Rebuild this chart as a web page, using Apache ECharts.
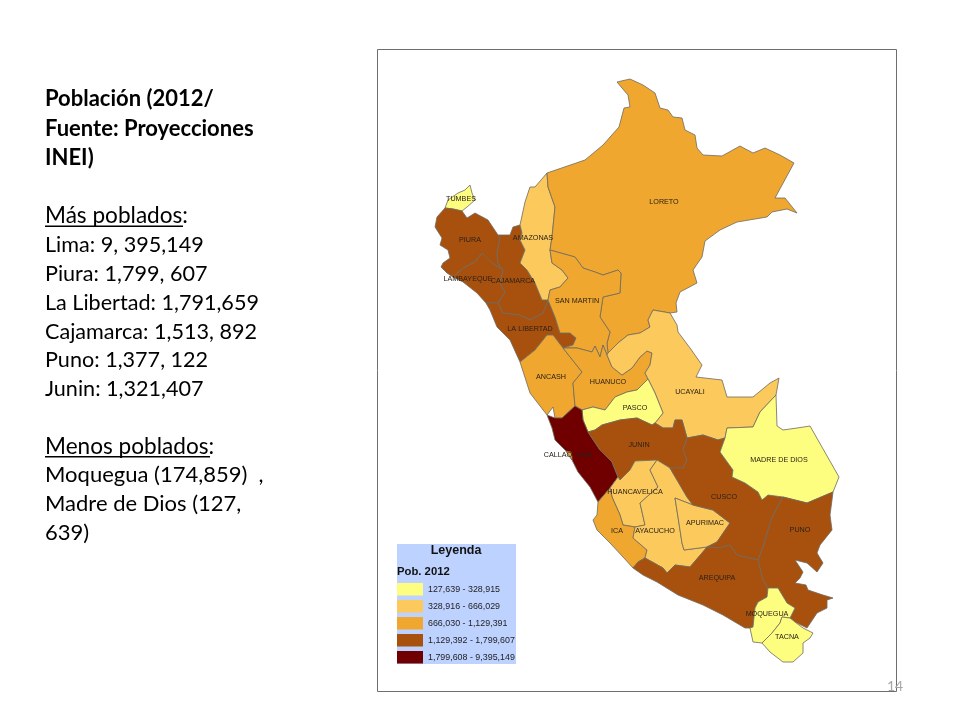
<!DOCTYPE html>
<html>
<head>
<meta charset="utf-8">
<title>Población Perú 2012</title>
<script src="https://cdn.jsdelivr.net/npm/echarts@6/dist/echarts.min.js"></script>
<style>
    html, body { margin: 0; padding: 0; background: #fff; }
    #main { width: 960px; height: 720px; }
</style>
</head>
<body>
<div id="main"></div>
<script type="application/javascript">
    // poblacion por departamento, 2012
    var departamentos = ['TUMBES', 'PIURA', 'LAMBAYEQUE', 'CAJAMARCA', 'LA LIBERTAD', 'AMAZONAS', 'LORETO', 'SAN MARTIN',
        'ANCASH', 'HUANUCO', 'UCAYALI', 'PASCO', 'LIMA', 'CALLAO', 'JUNIN', 'HUANCAVELICA', 'ICA', 'AYACUCHO',
        'APURIMAC', 'CUSCO', 'MADRE DE DIOS', 'AREQUIPA', 'PUNO', 'MOQUEGUA', 'TACNA'];
    var poblacion = [228227, 1799607, 1229260, 1513892, 1791659, 417365, 1006953, 806452,
        1129391, 840984, 477616, 297591, 9395149, 969170, 1321407, 483580, 763558, 666029,
        451881, 1292175, 127639, 1245251, 1377122, 174859, 328915];

    var claseMin = [127639, 328916, 666030, 1129392, 1799608];
    var claseMax = [328915, 666029, 1129391, 1799607, 9395149];
    var claseTexto = ['127,639 - 328,915', '328,916 - 666,029', '666,030 - 1,129,391', '1,129,392 - 1,799,607', '1,799,608 - 9,395,149'];
    var claseColor = ['#fdfd80', '#fbc95c', '#f0a72f', '#a8510f', '#700000'];

    var textoLineas = ['Población (2012/', 'Fuente: Proyecciones', 'INEI)', 'Más poblados:', 'Lima: 9, 395,149', 'Piura: 1,799, 607',
        'La Libertad: 1,791,659', 'Cajamarca: 1,513, 892', 'Puno: 1,377, 122', 'Junin: 1,321,407', 'Menos poblados:',
        'Moquegua (174,859)  ,', 'Madre de Dios (127,', '639)'];
    var textoY = [99, 129, 158, 216, 245, 274, 303, 332, 360, 389, 447, 475, 504, 533];
    var textoFuente = ['bold 22px', 'bold 22px', 'bold 22px', '22.6px', '21.6px', '21.6px', '21.6px', '21.6px', '21.6px', '21.6px', '22.6px', '22px', '22px', '22px'];

    // contornos del mapa, trazados a ojo en pixeles de la imagen
    var contornos = {
        'TUMBES': [[445,208],[448,200],[458,193],[465,190],[470,185],[472,193],[475,200],[467,207],[462,211],[453,209]],
        'PIURA': [[445,208],[437,217],[435,227],[442,238],[440,245],[448,250],[450,258],[443,263],[441,267],[447,273],[453,277],[463,268],[475,262],[482,253],[492,263],[503,270],[498,263],[497,253],[500,238],[498,235],[488,220],[475,213],[467,218],[462,211],[453,209]],
        'LAMBAYEQUE': [[453,277],[463,282],[477,293],[486,303],[498,303],[505,292],[500,283],[503,270],[492,263],[482,253],[475,262],[463,268]],
        'CAJAMARCA': [[498,235],[510,235],[513,227],[520,225],[522,233],[520,240],[525,250],[520,263],[527,270],[535,283],[542,300],[548,300],[543,313],[530,320],[520,315],[503,313],[498,303],[505,292],[500,283],[503,270],[498,263],[497,253],[500,238]],
        'LA LIBERTAD': [[486,303],[490,310],[497,327],[510,340],[520,362],[535,350],[547,335],[553,335],[563,348],[573,345],[576,338],[570,333],[560,333],[555,317],[548,300],[543,313],[530,320],[520,315],[503,313],[498,303]],
        'AMAZONAS': [[547,173],[535,187],[530,187],[525,202],[520,225],[522,233],[520,240],[525,250],[520,263],[527,270],[535,283],[542,300],[548,300],[550,290],[560,287],[568,278],[562,270],[552,263],[550,250],[552,237],[555,207],[548,187]],
        'LORETO': [[547,173],[585,160],[603,145],[619,127],[624,108],[630,107],[628,95],[622,88],[617,82],[630,79],[643,85],[655,93],[660,108],[668,110],[673,117],[682,118],[685,130],[695,135],[697,148],[703,155],[722,156],[740,146],[753,153],[765,148],[780,155],[794,163],[775,198],[785,198],[797,213],[787,209],[772,212],[767,217],[737,222],[720,230],[705,241],[702,257],[693,270],[697,283],[680,292],[676,303],[677,312],[670,313],[653,310],[648,320],[650,327],[640,333],[628,335],[618,343],[608,353],[607,343],[610,332],[600,317],[603,297],[620,293],[621,273],[618,270],[603,275],[595,272],[583,268],[575,257],[550,250],[552,237],[555,207],[548,187]],
        'SAN MARTIN': [[550,250],[575,257],[583,268],[595,272],[603,275],[618,270],[621,273],[620,293],[603,297],[600,317],[610,332],[607,343],[608,353],[607,355],[603,345],[600,357],[595,346],[592,352],[577,348],[563,348],[573,345],[576,338],[570,333],[560,333],[555,317],[548,300],[550,290],[560,287],[568,278],[562,270],[552,263]],
        'ANCASH': [[520,362],[535,350],[547,335],[553,335],[563,348],[582,372],[573,383],[575,406],[562,418],[555,418],[553,407],[547,415],[530,393]],
        'HUANUCO': [[563,348],[577,348],[592,352],[595,346],[600,357],[603,345],[607,355],[612,367],[622,375],[632,368],[640,357],[647,351],[652,353],[650,365],[645,373],[648,379],[637,390],[627,392],[615,397],[605,410],[593,407],[582,410],[575,406],[573,383],[582,372]],
        'UCAYALI': [[670,313],[677,325],[678,332],[690,348],[702,365],[696,377],[722,380],[727,397],[753,397],[770,383],[779,378],[776,395],[760,412],[753,427],[727,428],[725,438],[718,440],[703,435],[687,438],[682,420],[675,420],[673,428],[663,428],[655,423],[663,413],[655,393],[648,379],[645,373],[650,365],[652,353],[647,351],[640,357],[632,368],[622,375],[612,367],[607,355],[608,353],[618,343],[628,335],[640,333],[650,327],[648,320],[653,310]],
        'PASCO': [[582,410],[593,407],[605,410],[615,397],[627,392],[637,390],[648,379],[655,393],[663,413],[655,423],[652,425],[637,418],[620,420],[602,425],[595,430],[588,432],[583,420]],
        'LIMA': [[547,415],[555,418],[562,418],[575,406],[582,410],[583,420],[588,432],[600,450],[612,462],[618,477],[610,488],[598,502],[590,487],[578,472],[572,460],[566,451],[555,440],[552,428]],
        'CALLAO': [[566,451],[571,452],[572,457],[572,460]],
        'JUNIN': [[588,432],[595,430],[602,425],[620,420],[637,418],[652,425],[655,423],[663,428],[673,428],[675,420],[682,420],[687,438],[683,450],[687,460],[683,468],[670,468],[657,460],[635,461],[630,470],[620,480],[618,477],[612,462],[600,450]],
        'HUANCAVELICA': [[635,461],[657,460],[650,470],[658,487],[640,503],[645,525],[635,527],[623,525],[620,515],[612,497],[610,488],[618,477],[620,480],[630,470]],
        'ICA': [[610,488],[598,502],[597,515],[593,520],[597,530],[610,543],[623,557],[633,568],[638,562],[645,558],[647,550],[633,538],[635,527],[623,525],[620,515],[612,497]],
        'AYACUCHO': [[657,460],[670,468],[687,497],[693,505],[675,498],[678,517],[682,543],[684,550],[707,547],[702,553],[690,567],[675,565],[667,573],[663,568],[645,558],[647,550],[633,538],[635,527],[645,525],[640,503],[658,487],[650,470]],
        'APURIMAC': [[675,498],[693,505],[713,510],[730,523],[717,542],[707,547],[684,550],[682,543],[678,517]],
        'CUSCO': [[687,438],[703,435],[718,440],[725,438],[720,452],[733,470],[732,477],[745,483],[758,492],[762,500],[768,495],[783,497],[772,517],[763,547],[758,560],[737,555],[730,545],[718,548],[707,547],[717,542],[730,523],[713,510],[693,505],[687,497],[670,468],[683,468],[687,460],[683,450]],
        'MADRE DE DIOS': [[727,428],[753,427],[760,412],[776,395],[777,426],[783,430],[797,428],[810,426],[839,477],[833,492],[807,503],[783,497],[768,495],[762,500],[758,492],[745,483],[732,477],[733,470],[720,452],[725,438]],
        'AREQUIPA': [[633,568],[638,562],[645,558],[663,568],[667,573],[675,565],[690,567],[702,553],[707,547],[718,548],[730,545],[737,555],[758,560],[763,580],[768,588],[767,597],[758,602],[755,608],[753,627],[750,628],[745,628],[723,615],[703,605],[678,595],[657,582],[643,575]],
        'PUNO': [[783,497],[807,503],[833,492],[832,500],[830,515],[832,530],[820,545],[817,553],[823,563],[817,572],[807,563],[795,560],[803,572],[800,578],[795,583],[806,585],[808,590],[823,595],[833,598],[827,600],[827,608],[817,613],[807,628],[795,622],[790,618],[795,608],[787,603],[778,588],[768,588],[763,580],[758,560],[763,547],[772,517]],
        'MOQUEGUA': [[768,588],[778,588],[787,603],[795,608],[790,618],[782,617],[780,623],[772,633],[762,643],[753,642],[750,628],[753,627],[755,608],[758,602],[767,597]],
        'TACNA': [[782,617],[790,618],[795,622],[803,628],[813,633],[810,638],[803,643],[803,653],[793,662],[783,662],[770,652],[762,643],[772,633],[780,623]]
    };

    // centro de cada etiqueta, en pixeles
    var etiquetas = {
        'TUMBES': [461,199], 'PIURA': [470,240], 'LAMBAYEQUE': [468,279], 'CAJAMARCA': [513,281], 'LA LIBERTAD': [530,329],
        'AMAZONAS': [533,238], 'LORETO': [664,202], 'SAN MARTIN': [577,301], 'ANCASH': [551,377], 'HUANUCO': [608,382],
        'UCAYALI': [690,392], 'PASCO': [635,408], 'LIMA': [584,455], 'CALLAO': [558,455], 'JUNIN': [639,445],
        'HUANCAVELICA': [635,492], 'ICA': [617,531], 'AYACUCHO': [655,531], 'APURIMAC': [705,523], 'CUSCO': [724,497],
        'MADRE DE DIOS': [779,460], 'AREQUIPA': [717,578], 'PUNO': [800,530], 'MOQUEGUA': [767,614], 'TACNA': [787,637]
    };

    function flip (p) {
        return [p[0], 720 - p[1]];
    }

    var features = departamentos.map(function (name) {
        var ring = contornos[name].map(flip);
        ring.push(ring[0]);
        return {
            type: 'Feature',
            properties: {name: name, cp: flip(etiquetas[name])},
            geometry: {type: 'Polygon', coordinates: [ring]}
        };
    });
    echarts.registerMap('peru', {type: 'FeatureCollection', features: features});

    var pieces = claseMin.map(function (min, i) {
        return {min: min, max: claseMax[i], label: claseTexto[i], color: claseColor[i]};
    });
    var mapData = departamentos.map(function (name, i) {
        return {name: name, value: poblacion[i]};
    });

    var graphics = [
        {type: 'rect', z: 0, shape: {x: 377.5, y: 49.5, width: 519, height: 642}, style: {fill: '#fff', stroke: '#6e6e6e', lineWidth: 1}},
        {type: 'rect', z: 1, shape: {x: 397, y: 544, width: 119, height: 120}, style: {fill: '#bed2ff'}},
        {type: 'text', z: 6, x: 456, y: 551, style: {text: 'Leyenda', fill: '#111', font: 'bold 12.5px "Liberation Sans"', align: 'center', verticalAlign: 'middle'}},
        {type: 'text', z: 6, x: 397, y: 572, style: {text: 'Pob. 2012', fill: '#111', font: 'bold 11.3px "Liberation Sans"', verticalAlign: 'middle'}},
        {type: 'text', z: 6, x: 895, y: 686, style: {text: '14', fill: '#a6a6a6', font: '14px Lato', align: 'center', verticalAlign: 'middle'}},
        {type: 'rect', z: 6, shape: {x: 45, y: 225.5, width: 138, height: 1.4}, style: {fill: '#000'}},
        {type: 'rect', z: 6, shape: {x: 45, y: 456, width: 165, height: 1.4}, style: {fill: '#000'}}
    ];
    textoLineas.forEach(function (line, i) {
        graphics.push({
            type: 'text', z: 6, x: 45, y: textoY[i],
            style: {text: line, fill: '#000', font: textoFuente[i] + ' Lato', verticalAlign: 'middle'}
        });
    });

    var chart = echarts.init(document.getElementById('main'));
    var option = {};
    option.animation = false;
    option.backgroundColor = '#fff';
    option.graphic = graphics;
    option.visualMap = {
        type: 'piecewise',
        left: 397,
        top: 583,
        padding: 0,
        align: 'left',
        orient: 'vertical',
        inverse: true,
        itemWidth: 26,
        itemHeight: 12.5,
        itemGap: 4.5,
        itemSymbol: 'rect',
        selectedMode: false,
        hoverLink: false,
        textGap: 5,
        textStyle: {color: '#222', fontSize: 8.9, fontFamily: 'Liberation Sans'},
        pieces: pieces,
        seriesIndex: 0
    };
    option.series = [{
        type: 'map',
        map: 'peru',
        left: 0,
        top: 0,
        width: 960,
        height: 720,
        aspectScale: 1,
        boundingCoords: [[0, 720], [960, 0]],
        roam: false,
        silent: true,
        z: 3,
        label: {show: true, color: '#2b2116', fontSize: 7.2, fontFamily: 'Liberation Sans'},
        itemStyle: {borderColor: '#6f6a5e', borderWidth: 0.8},
        data: mapData
    }];
    chart.setOption(option);
</script>
</body>
</html>
